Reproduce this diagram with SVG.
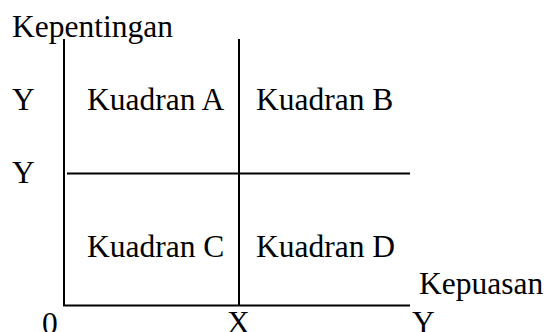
<svg xmlns="http://www.w3.org/2000/svg" width="547" height="332" viewBox="0 0 547 332">
<style>
text{font-family:"Liberation Serif","Times New Roman",serif;font-size:31.5px;fill:#000}
.ln{stroke:#000;stroke-width:2;fill:none}
</style>
<rect width="547" height="332" fill="#fff"/>
<g id="connectors">
<line class="ln" x1="64" y1="39" x2="64" y2="306"/>
<line class="ln" x1="239" y1="39" x2="239" y2="306"/>
<line class="ln" x1="67" y1="173.5" x2="410" y2="173.5"/>
<line class="ln" x1="63" y1="305.5" x2="410" y2="305.5"/>
</g>
<g id="axis-labels">
<text x="12" y="37">Kepentingan</text>
<text x="12" y="110">Y</text>
<text x="12" y="183">Y</text>
<text x="419" y="294">Kepuasan</text>
<text x="42" y="334">0</text>
<text x="227" y="333">X</text>
<text x="412" y="333">Y</text>
</g>
<g id="kuadran-a"><text x="87" y="110">Kuadran A</text></g>
<g id="kuadran-b"><text x="256" y="110">Kuadran B</text></g>
<g id="kuadran-c"><text x="87" y="257">Kuadran C</text></g>
<g id="kuadran-d"><text x="256" y="257">Kuadran D</text></g>
</svg>
